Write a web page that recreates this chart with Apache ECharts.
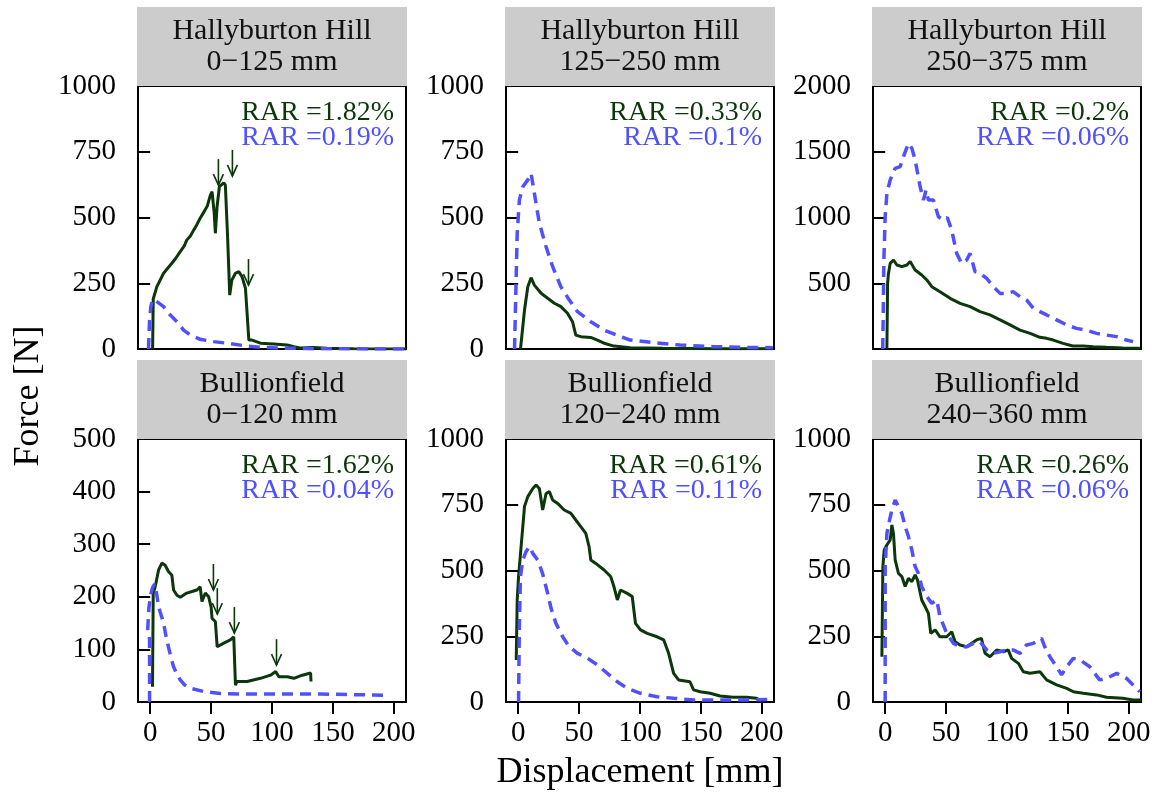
<!DOCTYPE html>
<html>
<head>
<meta charset="utf-8">
<script src="https://cdn.jsdelivr.net/npm/echarts@6.0.0/dist/echarts.min.js"></script>
<style>
  html, body { margin: 0; padding: 0; background: #ffffff; }
  #chart { width: 1161px; height: 798px; }
</style>
</head>
<body>
<div id="chart"></div>
<script>
// ---------------- DATA ----------------
const panelTitles = [
  'Hallyburton Hill\n0\u2212125 mm', 'Hallyburton Hill\n125\u2212250 mm', 'Hallyburton Hill\n250\u2212375 mm',
  'Bullionfield\n0\u2212120 mm', 'Bullionfield\n120\u2212240 mm', 'Bullionfield\n240\u2212360 mm'
];
const rarGreen = ['RAR =1.82%', 'RAR =0.33%', 'RAR =0.2%', 'RAR =1.62%', 'RAR =0.61%', 'RAR =0.26%'];
const rarBlue  = ['RAR =0.19%', 'RAR =0.1%', 'RAR =0.06%', 'RAR =0.04%', 'RAR =0.11%', 'RAR =0.06%'];
const yTickValues = [
  [0, 250, 500, 750, 1000], [0, 250, 500, 750, 1000], [500, 1000, 1500, 2000],
  [0, 100, 200, 300, 400, 500], [0, 250, 500, 750, 1000], [0, 250, 500, 750, 1000]
];
const yMaxes = [1000, 1000, 2000, 500, 1000, 1000];
const xTickValues = [0, 50, 100, 150, 200];

const hh1Green = [[2,0],[2.5,190],[5.5,237],[11,288],[14,305],[17.8,326],[21,345],[24.7,370],[28,392],[30,414],[33,430],[35.7,452],[38,470],[41,497],[45,528],[47,545],[49.4,585],[50.8,598],[52.5,520],[53.5,440],[54.9,541],[56.8,617],[60.4,632],[61.7,624],[63.6,420],[65.3,205],[67,262],[70,288],[72.7,294],[75.4,275],[78.2,231],[79.6,224],[81,34],[83.7,34],[90.5,22],[101.5,19],[112.5,15],[118,9],[123,4],[134,6],[145,3],[167,1],[210,0]];
const hh1Blue = [[-1.4,0],[-0.5,110],[0.5,160],[1.5,180],[2.7,189],[5.5,180],[11,161],[16.5,129],[22,104],[27.4,72],[33,53],[41,37],[52,28],[63,22],[79.6,11],[90.5,6],[112,3],[140,1],[210,0]];
const hh1Arrows = [[56,623],[67.5,658],[80.7,243]];

const hh2Green = [[1.9,0],[5.2,148],[7.9,237],[10.6,271],[13.3,243],[18.8,212],[24.2,193],[29.7,174],[35.1,161],[40.5,136],[44.6,104],[47.3,53],[51.4,47],[59.6,44],[65,34],[70.5,22],[78.6,11],[92,5],[119,3],[160,1],[209,1]];
const hh2Blue = [[-3,0],[-0.8,440],[1,567],[3.8,617],[7.9,643],[10.6,668],[13,600],[17.4,478],[22.9,389],[28.3,313],[35,237],[42,186],[48.7,142],[59.6,104],[70.5,72],[81,53],[92,34],[111,24],[133,15],[160,9],[187.5,6],[209,5]];

const hh3Green = [[1.4,0],[2,500],[2.7,575],[4.1,651],[6.8,677],[9.6,639],[13.7,626],[17.8,639],[20.5,665],[22,670],[24.6,601],[30,563],[34.2,525],[38.3,474],[45,436],[53.3,385],[61.5,347],[69.7,322],[77.9,284],[86,259],[94.3,221],[102.5,183],[110.7,144],[119,119],[127,89],[132.5,81],[138,68],[146,43],[154,23],[162.6,23],[170.8,18],[181.7,13],[195,8],[209,5]];
const hh3Blue = [[-2,0],[-1,700],[0,1006],[1.4,1184],[4.1,1285],[8.2,1374],[12.3,1387],[15,1463],[19.1,1564],[21.9,1526],[24.6,1437],[28.7,1234],[31.4,1133],[33.6,1209],[35.5,1133],[39.6,1133],[43.7,1006],[47.8,981],[51,1000],[54.6,905],[58.7,727],[62.8,651],[66.9,677],[69.7,727],[73.8,588],[77.9,575],[83.3,537],[88.8,474],[94.3,423],[99.7,423],[105,436],[110.7,398],[116,373],[121.6,309],[127,284],[132.5,259],[140.7,221],[149,183],[157,157],[165,144],[173.5,119],[181.7,106],[190,94],[198,68],[203.5,56]];

const bf1Green = [[1.9,29],[2.5,207],[4.1,219],[6.9,251],[9.6,264],[12.3,260],[15,248],[17.8,241],[19.2,213],[22,203],[24.7,199],[30,207],[34.3,210],[38.4,213],[41,219],[42.5,191],[45.3,207],[48,200],[50,181],[50.8,159],[53.5,153],[55,105],[60.4,112],[65.8,118],[68.6,124],[70,32],[71.3,39],[79.6,39],[90.5,45],[98.8,51],[103,58],[105.6,48],[112.5,48],[118,45],[124.8,51],[131.7,55],[132,39]];
const bf1Blue = [[-0.5,0],[-0.5,120],[-2,140],[-1,180],[0.5,205],[2,218],[3.6,224],[5,210],[6.9,181],[9,165],[11,150],[13,125],[15,105],[17,85],[19.2,67],[21.5,55],[24.7,42],[28,33],[33,26],[44,20],[57.6,16],[85,15],[112.5,15],[140,15],[167,14],[192,13]];
const bf1Arrows = [[51.9,213],[55.1,167],[69.1,131],[103.7,70]];

const bf2Green = [[-1.6,160],[-0.8,388],[0.3,477],[2.4,591],[5.2,743],[7.9,781],[12,812],[14.7,825],[17.4,812],[20.1,730],[22.9,793],[25.6,800],[28.3,768],[32.4,755],[37.8,730],[43.3,717],[47.3,692],[51.4,667],[55.5,641],[58.2,591],[59.6,540],[63.7,527],[70.5,502],[75.9,477],[78.6,439],[81.4,388],[84,426],[89.5,413],[93.6,401],[96.3,299],[100.4,274],[105.9,261],[114,248],[119.5,236],[123.5,185],[127.6,109],[131.7,84],[141,77],[144,46],[149.4,39],[157.6,33],[165.7,23],[176.6,18],[187.5,18],[195.6,14],[199.7,5]];
const bf2Blue = [[0.3,0],[1,300],[1.9,477],[3.8,540],[6.5,572],[9.3,591],[12,565],[16,540],[20,489],[24.2,413],[27,356],[31,299],[36.5,248],[42,210],[48.7,185],[57,166],[65,141],[73.2,109],[81.4,77],[89.5,52],[100.4,33],[114,20],[127.6,14],[144,8],[165.7,8],[187.5,8],[209,10]];

const bf3Green = [[-2.7,172],[-1.9,515],[-0.8,578],[1.4,597],[4.1,616],[5.5,673],[6.8,641],[8.2,540],[10.9,489],[13.7,477],[16.4,439],[19.1,470],[21.9,458],[24.6,483],[26.5,464],[30,388],[32.8,363],[35.5,337],[37.4,261],[41,274],[45,248],[50.5,248],[54.6,267],[57.4,229],[61.5,217],[67,210],[71,223],[75,236],[79,242],[82,185],[86,172],[91.5,198],[97,191],[101,198],[103.8,166],[109.3,147],[113.4,115],[118.9,109],[127,115],[132.5,84],[140.7,65],[149,52],[154.4,39],[162.6,33],[173.5,27],[181.7,18],[195,14],[203.6,8],[210,8]];
const bf3Blue = [[0,0],[0,515],[1.4,641],[3.6,692],[5.5,730],[8.2,768],[10.9,743],[13.7,717],[16.4,667],[19.1,629],[21.9,578],[24.6,515],[27.3,489],[30,439],[34.2,401],[38.3,375],[42.3,388],[45,325],[50.5,261],[56,223],[61.5,210],[67,210],[72.4,223],[77.9,229],[83.3,198],[88.8,185],[94.3,191],[99.7,198],[105,198],[110.7,185],[116,217],[121.6,223],[128.4,242],[131,210],[135.2,172],[140.7,134],[144.8,103],[149,134],[154.4,166],[160,160],[168,134],[176,84],[181.7,90],[190,109],[198,90],[209,39]];

const greenSeries = [hh1Green, hh2Green, hh3Green, bf1Green, bf2Green, bf3Green];
const blueSeries  = [hh1Blue, hh2Blue, hh3Blue, bf1Blue, bf2Blue, bf3Blue];
const arrowSeries = [hh1Arrows, null, null, bf1Arrows, null, null];

// ---------------- STYLE / LAYOUT ----------------
const FONT = 'Liberation Serif';
const GREEN = '#0b370b';
const BLUE = '#5050ff';
const colLefts = [138, 506, 873];
const rowTops = [86, 439];
const W = 268, H = 263, STRIP = 79;

const grids = [], xAxes = [], yAxes = [], series = [], graphics = [];
const plainNumber = function (v) { return String(v); };

for (let i = 0; i < 6; i++) {
  const r = Math.floor(i / 3), c = i % 3;
  const left = colLefts[c], top = rowTops[r];
  const bottomRow = r === 1;
  grids.push({ left: left, top: top, width: W, height: H, show: true,
    borderColor: '#000', borderWidth: 2, backgroundColor: 'transparent', containLabel: false });
  xAxes.push({
    type: 'value', gridIndex: i, min: -10, max: 210,
    axisLine: { show: false },
    splitLine: { show: false },
    axisTick: { show: bottomRow, length: 12, customValues: xTickValues, lineStyle: { color: '#000', width: 2 } },
    axisLabel: { show: bottomRow, customValues: xTickValues, margin: 17, color: '#000',
      fontFamily: FONT, fontSize: 29, formatter: plainNumber }
  });
  yAxes.push({
    type: 'value', gridIndex: i, min: 0, max: yMaxes[i],
    axisLine: { show: false },
    splitLine: { show: false },
    axisTick: { show: true, length: 12, customValues: yTickValues[i], lineStyle: { color: '#000', width: 2 } },
    axisLabel: { show: true, customValues: yTickValues[i], margin: 22, color: '#000',
      fontFamily: FONT, fontSize: 29, formatter: plainNumber }
  });
  series.push({
    type: 'line', xAxisIndex: i, yAxisIndex: i, data: greenSeries[i],
    showSymbol: false, symbol: 'none', z: 3, animation: false,
    lineStyle: { color: GREEN, width: 3 }
  });
  series.push({
    type: 'line', xAxisIndex: i, yAxisIndex: i, data: blueSeries[i],
    showSymbol: false, symbol: 'none', z: 4, animation: false,
    lineStyle: { color: BLUE, width: 3.5, type: [11, 7] }
  });
  if (arrowSeries[i]) {
    series.push({
      type: 'custom', xAxisIndex: i, yAxisIndex: i, data: arrowSeries[i], z: 5, animation: false,
      renderItem: function (params, api) {
        const p = api.coord([api.value(0), api.value(1)]);
        return { type: 'group', children: [
          { type: 'line', shape: { x1: p[0], y1: p[1] - 26, x2: p[0], y2: p[1] },
            style: { stroke: GREEN, lineWidth: 1.6 } },
          { type: 'polyline', shape: { points: [[p[0] - 5, p[1] - 11], [p[0], p[1]], [p[0] + 5, p[1] - 11]] },
            style: { stroke: GREEN, lineWidth: 1.6, fill: null } }
        ] };
      }
    });
  }
  // strip
  graphics.push({ type: 'rect', left: left - 1, top: top - STRIP, shape: { width: W + 2, height: STRIP },
    style: { fill: '#cccccc' }, z: 1 });
  graphics.push({ type: 'text', x: left + W / 2, y: top - STRIP / 2, z: 2,
    style: { text: panelTitles[i], fill: '#111', font: '30px "' + FONT + '"', lineHeight: 31,
      align: 'center', verticalAlign: 'middle' } });
  // RAR annotations
  graphics.push({ type: 'text', x: left + W - 12, y: top + 27, z: 6,
    style: { text: rarGreen[i], fill: GREEN, font: '28px "' + FONT + '"', align: 'right', verticalAlign: 'middle' } });
  graphics.push({ type: 'text', x: left + W - 12, y: top + 52, z: 6,
    style: { text: rarBlue[i], fill: BLUE, font: '28px "' + FONT + '"', align: 'right', verticalAlign: 'middle' } });
}

graphics.push({ type: 'text', x: 29, y: 396, rotation: Math.PI / 2,
  style: { text: 'Force [N]', fill: '#000', font: '36px "' + FONT + '"', align: 'center', verticalAlign: 'middle' } });
graphics.push({ type: 'text', x: 640, y: 773,
  style: { text: 'Displacement [mm]', fill: '#000', font: '36px "' + FONT + '"', align: 'center', verticalAlign: 'middle' } });

const chart = echarts.init(document.getElementById('chart'), null, { renderer: 'canvas' });
chart.setOption({
  backgroundColor: '#ffffff',
  animation: false,
  grid: grids, xAxis: xAxes, yAxis: yAxes, series: series, graphic: graphics
});
</script>
</body>
</html>
